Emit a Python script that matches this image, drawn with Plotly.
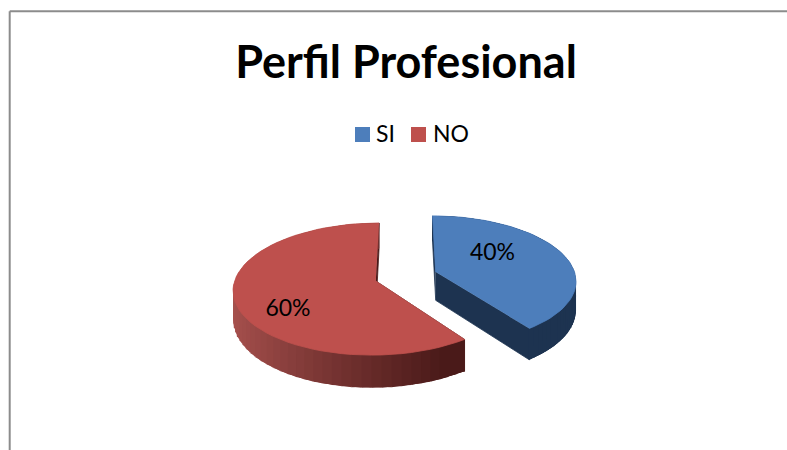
import numpy as np
import plotly.graph_objects as go

CATEGORIES = ["SI", "NO"]
SHARES = [40, 60]
TOP_COLORS = ["#4d7ebb", "#be504d"]
SIDE_LEFT = ["#1d3350", "#a8514e"]
SIDE_RIGHT = ["#1d3350", "#4a1a19"]

WIDTH, HEIGHT = 787, 450
FONT = "Lato, sans-serif"

# camera for the tilted pie, in pixels of the page
CX, CY = 406.0, 276.5
RX, RY = 140.0, 64.0
PERSPECTIVE = 0.121
DEPTH = 28.5
EXPLODE = 0.225

SWATCH_X = [362.5, 418.5]
SWATCH_Y = 134.5
LEGEND_TEXT_X = [376, 433]
LEGEND_TEXT_Y = 136
LABEL_X = [492.5, 288]
LABEL_Y = [254, 310]


def project(x, y, drop=0.0):
    """World point on the unit pie (y = towards the back) to page pixels."""
    den = 1 + PERSPECTIVE * y
    return CX + RX * x / den, CY - RY * y / den + drop / den


def blend(c1, c2, t):
    a = [int(c1[i:i + 2], 16) for i in (1, 3, 5)]
    b = [int(c2[i:i + 2], 16) for i in (1, 3, 5)]
    return "rgb({},{},{})".format(*[round(p + (q - p) * t) for p, q in zip(a, b)])


def polygon(xs, ys, color, line_width=0.8):
    return go.Scatter(
        x=xs, y=ys, mode="lines", fill="toself", fillcolor=color,
        line=dict(color=color, width=line_width), showlegend=False, hoverinfo="skip",
    )


fig = go.Figure()
tops = []
start = 0.0
for n, share in enumerate(SHARES):
    sweep = share / sum(SHARES) * 2 * np.pi
    mid = start + sweep / 2
    ox, oy = EXPLODE * np.sin(mid), EXPLODE * np.cos(mid)
    theta = np.linspace(start, start + sweep, 61)
    wx, wy = ox + np.sin(theta), oy + np.cos(theta)

    # cut faces first
    for edge in (0, -1):
        xa, ya = project(ox, oy)
        xb, yb = project(wx[edge], wy[edge])
        xc, yc = project(wx[edge], wy[edge], DEPTH)
        xd, yd = project(ox, oy, DEPTH)
        fig.add_trace(polygon([xa, xb, xc, xd], [ya, yb, yc, yd], SIDE_RIGHT[n]))

    # outer wall, shaded left to right; each piece runs under the next so no seams show
    sx, sy = project(wx, wy)
    bx, by = project(wx, wy, DEPTH)
    x_lo, x_hi = sx.min(), sx.max()
    order = np.argsort(sx[:-1])
    for i in order:
        j = min(i + 3, len(theta) - 1)
        k = max(i - 2, 0)
        t = (sx[i] - x_lo) / (x_hi - x_lo)
        fig.add_trace(polygon(
            [sx[k], sx[j], bx[j], bx[k]],
            [sy[k], sy[j], by[j], by[k]],
            blend(SIDE_LEFT[n], SIDE_RIGHT[n], t), line_width=0,
        ))

    ax, ay = project(ox, oy)
    tops.append(([ax, *sx], [ay, *sy], TOP_COLORS[n]))
    start += sweep

for xs, ys, color in tops:
    fig.add_trace(polygon(xs, ys, color))

# slice labels
fig.add_trace(go.Scatter(
    x=LABEL_X, y=LABEL_Y, mode="text",
    text=[f"{s}%" for s in SHARES],
    textfont=dict(family=FONT, size=23, color="#000000"),
    textposition="middle center", showlegend=False, hoverinfo="skip",
))

# legend
fig.add_trace(go.Scatter(
    x=SWATCH_X, y=[SWATCH_Y] * len(SWATCH_X), mode="markers",
    marker=dict(symbol="square", size=15, color=TOP_COLORS),
    showlegend=False, hoverinfo="skip",
))
fig.add_trace(go.Scatter(
    x=LEGEND_TEXT_X, y=[LEGEND_TEXT_Y] * len(LEGEND_TEXT_X), mode="text",
    text=CATEGORIES, textposition="middle right",
    textfont=dict(family=FONT, size=23, color="#000000"),
    showlegend=False, hoverinfo="skip",
))

# frame around the chart, only top and left are in view
for x0, y0, x1, y1 in ((9.7, 11.3, WIDTH, 11.3), (9.7, 11.3, 9.7, HEIGHT)):
    fig.add_shape(type="line", x0=x0, y0=y0, x1=x1, y1=y1,
                  line=dict(color="#8c8c8c", width=2))

fig.update_layout(
    width=WIDTH, height=HEIGHT,
    margin=dict(l=0, r=0, t=0, b=0),
    paper_bgcolor="#ffffff", plot_bgcolor="#ffffff",
    title=dict(text="<b>Perfil Profesional</b>",
               x=406 / WIDTH, y=1 - 62.5 / HEIGHT,
               xanchor="center", yanchor="middle",
               font=dict(family=FONT, size=45, color="#000000")),
    showlegend=False,
    xaxis=dict(range=[0, WIDTH], visible=False, fixedrange=True),
    yaxis=dict(range=[HEIGHT, 0], visible=False, fixedrange=True),
)

# drop the default body margin so the figure fills the window
fig.write_html("out.html", config={"displayModeBar": False},
               post_script="document.body.style.margin = '0';")
